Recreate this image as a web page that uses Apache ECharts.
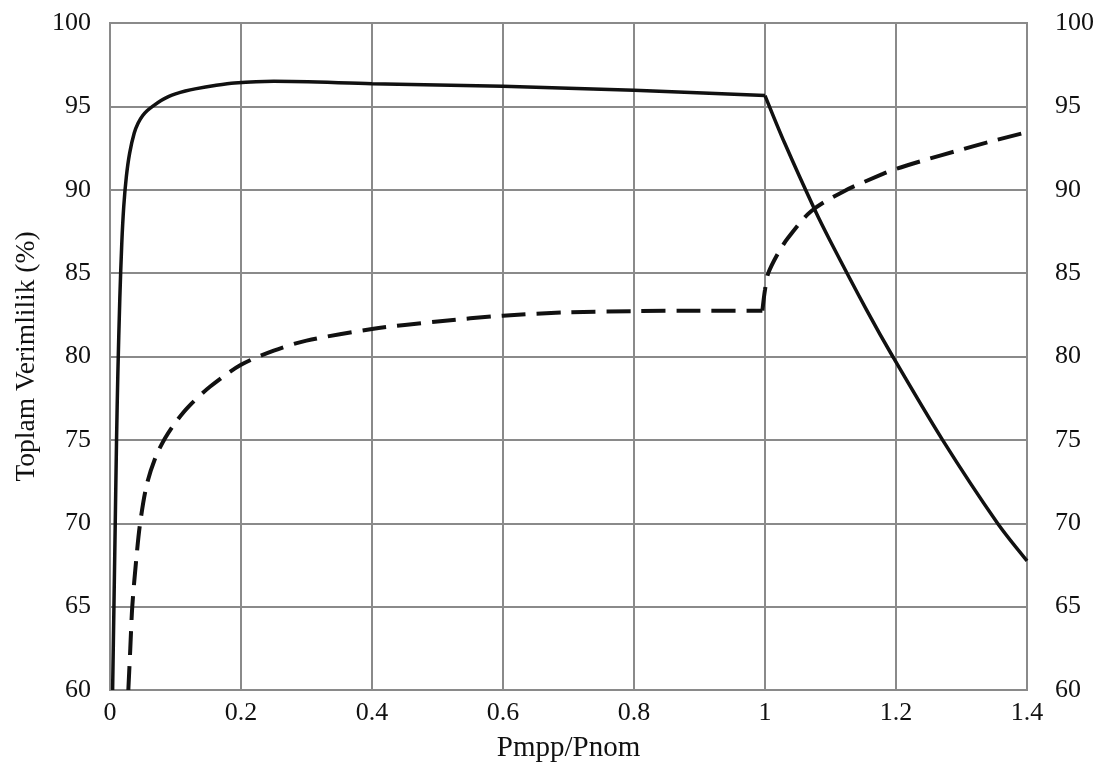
<!DOCTYPE html>
<html>
<head>
<meta charset="utf-8">
<script src="https://cdn.jsdelivr.net/npm/echarts@6/dist/echarts.min.js"></script>
<style>html,body{margin:0;padding:0;background:#fff;}#c{width:1102px;height:776px;}</style>
</head>
<body>
<div id="c"></div>
<script>
// Axis ticks
const xTicks = [0, 0.2, 0.4, 0.6, 0.8, 1, 1.2, 1.4];
const yTicks = [60, 65, 70, 75, 80, 85, 90, 95, 100];

// Solid curve (Toplam Verimlilik)
const solidX = [0.004, 0.006, 0.008, 0.010, 0.012, 0.015, 0.018, 0.021, 0.025, 0.030, 0.037, 0.043, 0.050, 0.057, 0.065, 0.078, 0.090, 0.100, 0.115, 0.130, 0.160, 0.190, 0.250, 0.400, 0.600, 0.800, 1.000, 1.030, 1.076, 1.100, 1.155, 1.195, 1.271, 1.355, 1.400];
const solidY = [60.0, 65.0, 70.0, 75.0, 79.0, 83.5, 86.8, 89.0, 90.8, 92.2, 93.4, 94.0, 94.45, 94.75, 95.0, 95.35, 95.6, 95.75, 95.92, 96.05, 96.25, 96.4, 96.5, 96.36, 96.2, 95.96, 95.65, 92.8, 88.8, 86.9, 82.8, 80.0, 75.0, 70.0, 67.75];

// Dashed curve
const dashX = [0.028, 0.031, 0.034, 0.040, 0.046, 0.056, 0.070, 0.084, 0.100, 0.120, 0.153, 0.200, 0.250, 0.300, 0.400, 0.500, 0.600, 0.700, 0.800, 0.900, 0.996, 1.000, 1.005, 1.020, 1.035, 1.070, 1.120, 1.180, 1.200, 1.250, 1.290, 1.345, 1.400];
const dashY = [60.0, 62.5, 65.0, 67.8, 70.0, 72.3, 74.0, 75.1, 76.05, 77.0, 78.2, 79.5, 80.35, 80.95, 81.65, 82.1, 82.45, 82.65, 82.72, 82.75, 82.75, 84.0, 85.0, 86.2, 87.1, 88.7, 89.9, 90.95, 91.25, 91.85, 92.3, 92.9, 93.45];

const pairs = (xs, ys) => xs.map((x, i) => [x, ys[i]]);
const solidData = pairs(solidX, solidY);
const dashData = pairs(dashX, dashY);
// split at the knee (x = 1) so each side can be smoothed while the corner stays sharp
const sK = solidX.indexOf(1.000);
const dK = dashX.indexOf(0.996);
const solidA = solidData.slice(0, sK + 1), solidB = solidData.slice(sK);
const dashA = dashData.slice(0, dK + 1), dashB = dashData.slice(dK);

const FONT = '"Liberation Serif", "DejaVu Serif", serif';
const GRID = '#8a8a8a';

const chart = echarts.init(document.getElementById('c'), null, {renderer: 'canvas'});
const solidStyle = {color: '#111', width: 3.5};
const dashStyle = {color: '#111', width: 4, type: [24, 11]};
const mk = (data, style, s) => ({
  type: 'line', data, showSymbol: false, symbol: 'none', clip: true,
  smooth: s, lineStyle: style
});
chart.setOption({
  animation: false,
  backgroundColor: '#ffffff',
  grid: {left: 110, right: 75, top: 23, bottom: 86, show: true, borderColor: GRID, borderWidth: 2},
  xAxis: {
    type: 'value', min: 0, max: 1.4, interval: 0.2,
    name: 'Pmpp/Pnom', nameLocation: 'middle', nameGap: 44,
    nameTextStyle: {fontFamily: FONT, fontSize: 29, color: '#111'},
    axisLine: {show: true, lineStyle: {color: GRID, width: 2}},
    axisTick: {show: false},
    splitLine: {show: true, lineStyle: {color: GRID, width: 2}},
    axisLabel: {fontFamily: FONT, fontSize: 26, color: '#111', margin: 10,
      formatter: v => { const t = xTicks.find(k => Math.abs(k - v) < 1e-6); return t === undefined ? '' : String(+t.toFixed(1)); }}
  },
  yAxis: [{
    type: 'value', min: 60, max: 100, interval: 5, position: 'left',
    name: 'Toplam Verimlilik (%)', nameLocation: 'middle', nameGap: 66, nameRotate: 90,
    nameTextStyle: {fontFamily: FONT, fontSize: 27.5, color: '#111'},
    axisLine: {show: true, lineStyle: {color: GRID, width: 2}},
    axisTick: {show: false},
    splitLine: {show: true, lineStyle: {color: GRID, width: 2}},
    axisLabel: {fontFamily: FONT, fontSize: 26, color: '#111', margin: 19, padding: [0, 0, 8, 0],
      formatter: v => yTicks.includes(v) ? String(v) : ''}
  }, {
    type: 'value', min: 60, max: 100, interval: 5, position: 'right',
    axisLine: {show: true, lineStyle: {color: GRID, width: 2}},
    axisTick: {show: false},
    splitLine: {show: false},
    axisLabel: {fontFamily: FONT, fontSize: 26, color: '#111', margin: 28, padding: [0, 0, 10, 0],
      formatter: v => yTicks.includes(v) ? String(v) : ''}
  }],
  series: [mk(solidA, solidStyle, 0.3), mk(solidB, solidStyle, 0.3), mk(dashA, dashStyle, 0.3), mk(dashB, dashStyle, 0.3)]
});
</script>
</body>
</html>
